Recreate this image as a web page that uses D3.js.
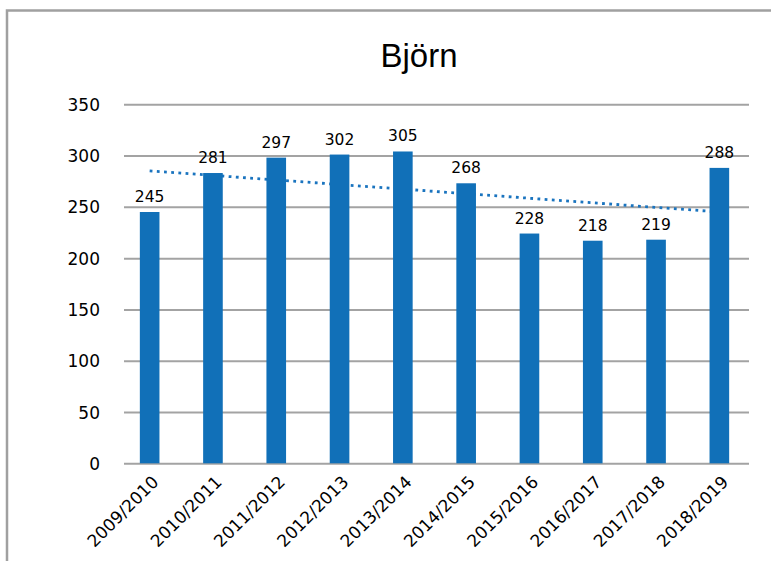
<!DOCTYPE html>
<html>
<head>
<meta charset="utf-8">
<script src="https://cdn.jsdelivr.net/npm/d3@7/dist/d3.min.js"></script>
<style>
  html, body { margin: 0; padding: 0; background: #fff; }
  svg { display: block; }
</style>
</head>
<body>
<svg id="chart" width="771" height="561"></svg>
<script>
const title = "Björn";
const categories = ["2009/2010","2010/2011","2011/2012","2012/2013","2013/2014","2014/2015","2015/2016","2016/2017","2017/2018","2018/2019"];
const barValues = [245, 283, 298, 301, 304, 273, 224, 217, 218, 288];
const dataLabels = ["245","281","297","302","305","268","228","218","219","288"];
const yTicks = [0, 50, 100, 150, 200, 250, 300, 350];

const svg = d3.select("#chart");
const W = 771, H = 561;
const barColor = "#1170b8";
const gridColor = "#a3a3a3";

// outer frame
svg.append("rect")
  .attr("x", 7).attr("y", 10.5)
  .attr("width", W + 20).attr("height", H + 20)
  .attr("fill", "#fff")
  .attr("stroke", "#a0a0a0")
  .attr("stroke-width", 2.5);

const y = d3.scaleLinear().domain([0, 350]).range([463.3, 104.3]);
const x = d3.scaleBand().domain(categories).range([118, 751])
  .paddingInner(0.69).paddingOuter(0.345);
const gridX0 = 124, gridX1 = 749;

// title
svg.append("text")
  .attr("x", 419).attr("y", 66.5)
  .attr("text-anchor", "middle")
  .attr("font-family", "Liberation Sans, Arial, sans-serif")
  .attr("font-size", 33)
  .attr("fill", "#000")
  .text(title);

// gridlines + y tick labels
const yAxis = d3.axisLeft(y).tickValues(yTicks).tickSize(0).tickPadding(0);
const yg = svg.append("g").attr("transform", `translate(${gridX0},0)`).call(yAxis);
yg.select(".domain").remove();
yg.selectAll(".tick line")
  .attr("x1", 0).attr("x2", gridX1 - gridX0)
  .attr("stroke", gridColor).attr("stroke-width", 2);
yg.selectAll(".tick text")
  .attr("x", -24)
  .attr("dy", "0.36em")
  .attr("font-family", "DejaVu Sans, sans-serif")
  .attr("font-size", 17)
  .attr("fill", "#000");

// trend line (linear regression of bar values), drawn behind bars
const n = barValues.length;
const xs = d3.range(n);
const xm = d3.mean(xs), ym = d3.mean(barValues);
const sxy = d3.sum(xs, i => (i - xm) * (barValues[i] - ym));
const sxx = d3.sum(xs, i => (i - xm) * (i - xm));
const slope = sxy / sxx, intercept = ym - slope * xm;
const cx = c => x(c) + x.bandwidth() / 2;
const trend = [0, n - 1].map(i => [cx(categories[i]), y(intercept + slope * i)]);
svg.append("path")
  .attr("d", d3.line()(trend))
  .attr("fill", "none")
  .attr("stroke", "#1a74bf")
  .attr("stroke-width", 2.8)
  .attr("stroke-dasharray", "2.8,4.4");

// bars
svg.append("g").selectAll("rect").data(categories).join("rect")
  .attr("x", d => x(d))
  .attr("width", x.bandwidth())
  .attr("y", (d, i) => y(barValues[i]))
  .attr("height", (d, i) => y(0) - y(barValues[i]))
  .attr("fill", barColor);

// data labels
svg.append("g").selectAll("text").data(categories).join("text")
  .attr("x", d => cx(d))
  .attr("y", (d, i) => y(barValues[i]) - 10)
  .attr("text-anchor", "middle")
  .attr("font-family", "DejaVu Sans, sans-serif")
  .attr("font-size", 15.5)
  .attr("fill", "#000")
  .text((d, i) => dataLabels[i]);

// x labels
svg.append("g").selectAll("text").data(categories).join("text")
  .attr("transform", d => `translate(${cx(d) + 10},${483}) rotate(-45)`)
  .attr("text-anchor", "end")
  .attr("font-family", "DejaVu Sans, sans-serif")
  .attr("font-size", 17)
  .attr("fill", "#000")
  .text(d => d);
</script>
</body>
</html>
